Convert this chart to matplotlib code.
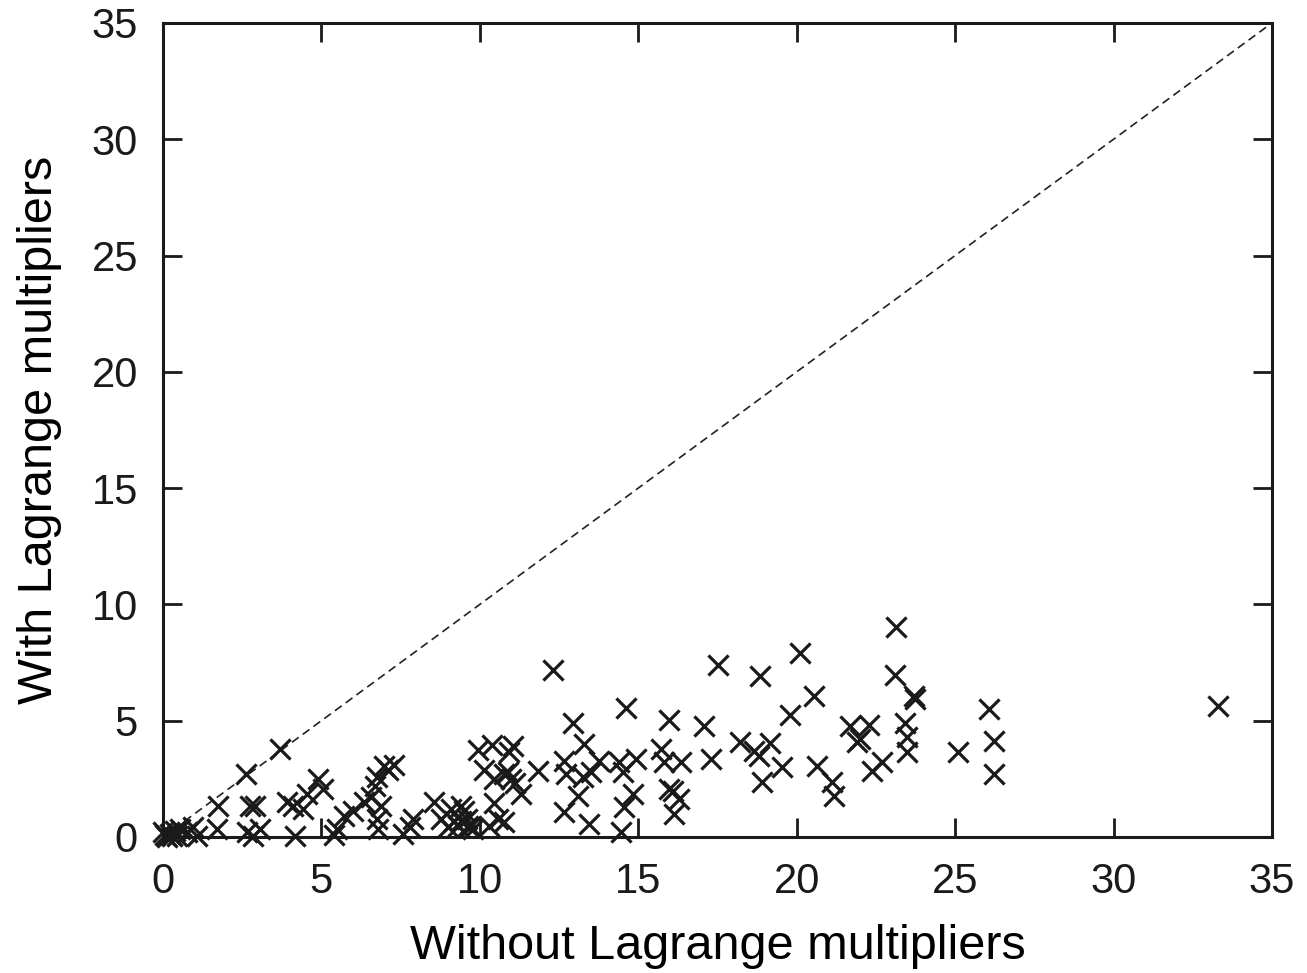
import matplotlib
matplotlib.use("Agg")
import matplotlib.pyplot as plt

plt.rcParams['font.family'] = ['Liberation Sans', 'DejaVu Sans']

# points (without, with) Lagrange multipliers
without_lm = [
    0.0, 0.22, 0.38, 0.54, 0.13, 0.44, 0.76, 0.95, 1.07, 1.7, 0.05, 0.3,
    3.7, 2.63, 1.74, 2.75, 2.9, 3.9, 4.1, 4.55, 4.9, 5.06, 4.43, 2.65, 3.07, 2.85, 4.18,
    5.5, 5.4, 5.7, 6.0, 6.33, 6.55, 6.7, 6.77, 7.1, 7.3, 6.96, 6.87, 6.77, 6.8, 7.56,
    7.8, 7.9, 8.55, 8.77, 9.08, 9.4, 9.5, 9.6, 9.3, 9.0, 9.7, 9.94, 10.38, 11.04,
    10.13, 10.9, 11.1, 10.45, 10.56, 10.76, 10.3, 9.4, 9.62, 9.18, 9.78,
    10.92, 10.76, 10.98, 11.3, 10.44,
    12.31, 17.53, 20.1, 18.83, 20.54, 19.78, 14.62, 12.94, 15.98, 17.06, 21.68,
    13.29, 15.73, 18.2, 19.15, 18.64, 18.8, 17.31, 16.36, 15.82, 14.94, 14.4, 13.77,
    12.66, 11.84, 12.72, 13.26, 13.51, 14.53, 19.53, 20.63, 18.89, 21.1, 21.17,
    13.1, 14.84, 14.56, 15.98, 16.1, 16.3, 16.14, 12.66, 13.45, 14.46,
    23.13, 23.1, 23.7, 23.73, 26.08, 33.29, 22.28, 23.42, 21.9, 21.99, 23.48,
    23.48, 26.23, 25.1, 22.37, 22.69, 26.23,
]
with_lm = [
    0.2, 0.13, 0.26, 0.34, 0.0, 0.05, 0.2, 0.43, 0.05, 0.34, 0.1, 0.05,
    3.78, 2.7, 1.33, 1.33, 1.33, 1.5, 1.33, 1.85, 2.5, 2.06, 1.2, 0.2, 0.34, 0.05, 0.05,
    0.34, 0.1, 0.9, 1.1, 1.5, 1.7, 2.2, 2.6, 2.9, 3.1, 3.05, 1.33, 0.77, 0.34, 0.13,
    0.43, 0.77, 1.5, 0.77, 1.2, 1.33, 1.1, 0.77, 0.47, 0.43, 0.43, 3.75, 3.95, 3.92,
    2.88, 2.8, 2.32, 1.46, 0.77, 0.66, 0.47, 0.69, 0.47, 0.69, 0.34,
    3.65, 2.7, 2.49, 1.85, 2.49,
    7.17, 7.38, 7.9, 6.9, 6.05, 5.24, 5.54, 4.89, 5.02, 4.76, 4.78,
    3.99, 3.78, 4.08, 4.03, 3.69, 3.48, 3.35, 3.22, 3.22, 3.35, 3.22, 3.26,
    3.26, 2.83, 2.7, 2.58, 2.79, 2.79, 3.0, 3.07, 2.36, 2.38, 1.76,
    1.76, 1.85, 1.29, 2.06, 1.97, 1.63, 0.99, 1.07, 0.56, 0.21,
    9.01, 6.95, 6.05, 5.92, 5.49, 5.62, 4.8, 4.89, 4.08, 4.2, 4.29,
    3.65, 4.12, 3.65, 2.83, 3.22, 2.7,
]
diag = [0, 35]
ticks = [0, 5, 10, 15, 20, 25, 30, 35]

fig = plt.figure(figsize=(13.07, 9.73), dpi=100)
ax = fig.add_axes([0.1247, 0.1398, 0.8485, 0.8366])

ax.plot(diag, diag, color='#222222', lw=1.2, ls=(0, (5, 3)))
ax.scatter(without_lm, with_lm, marker='x', s=210, color='#1a1a1a',
           linewidths=2.3, clip_on=False, zorder=3)

ax.set_xlim(0, 35)
ax.set_ylim(0, 35)
ax.set_xticks(ticks)
ax.set_yticks(ticks)
ax.tick_params(direction='in', length=13.5, width=2.0, labelsize=30,
               top=True, right=True, pad=18, colors='#1a1a1a')
for sp in ax.spines.values():
    sp.set_linewidth(2.2)
    sp.set_color('#1a1a1a')

ax.set_xlabel('Without Lagrange multipliers', fontsize=35, labelpad=16)
ax.set_ylabel('With Lagrange multipliers', fontsize=35, labelpad=21)

fig.savefig('out.png', dpi=100)
